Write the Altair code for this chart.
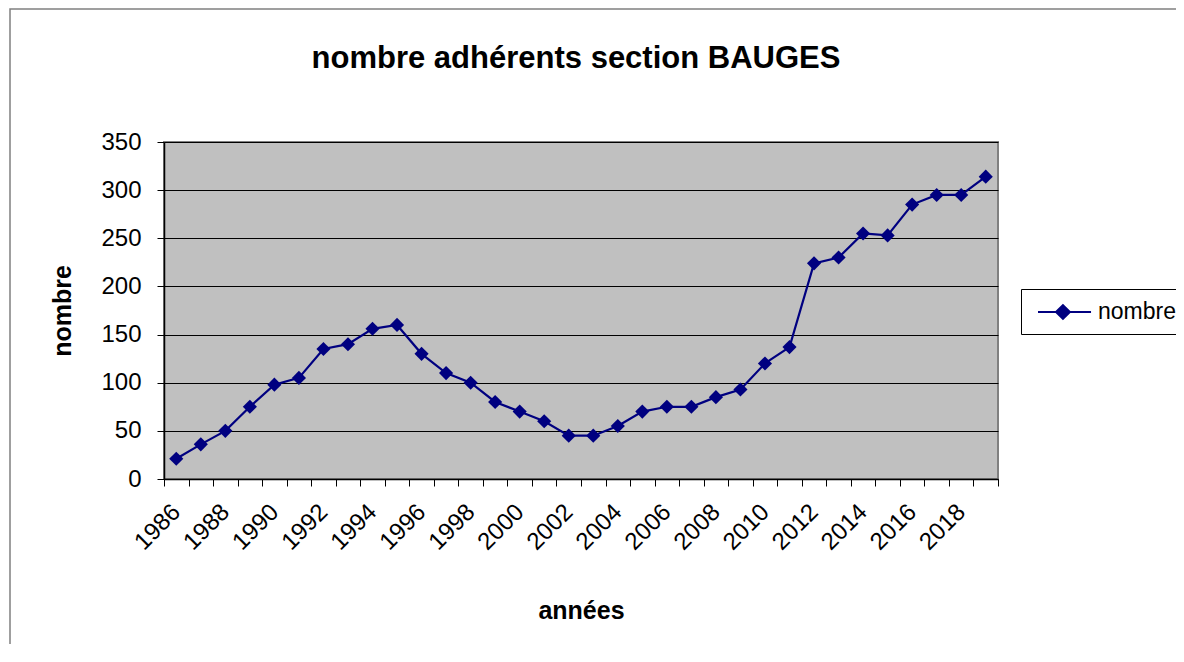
import altair as alt
import pandas as pd

years = [1986, 1987, 1988, 1989, 1990, 1991, 1992, 1993, 1994, 1995, 1996, 1997,
         1998, 1999, 2000, 2001, 2002, 2003, 2004, 2005, 2006, 2007, 2008, 2009,
         2010, 2011, 2012, 2013, 2014, 2015, 2016, 2017, 2018, 2019]
nombre = [21, 36, 50, 75, 98, 105, 135, 140, 156, 160, 130, 110,
          100, 80, 70, 60, 45, 45, 55, 70, 75, 75, 85, 93,
          120, 137, 224, 230, 255, 253, 285, 295, 295, 314]
series_name = "nombre"
y_ticks = [0, 50, 100, 150, 200, 250, 300, 350]

df = pd.DataFrame({"annee": years, "nombre": nombre, "serie": [series_name] * len(years)})

FONT = "Liberation Sans"
NAVY = "#000080"

x_enc = alt.X(
    "annee:O",
    scale=alt.Scale(paddingInner=0, paddingOuter=0),
    axis=alt.Axis(
        title="années",
        labelExpr="datum.value % 2 == 0 ? datum.label : ''",
        labelAngle=-45,
        labelAlign="right",
        labelBaseline="middle",
        labelPadding=22,
        labelFont=FONT,
        labelFontSize=24,
        labelColor="black",
        tickBand="extent",
        tickSize=7,
        tickColor="black",
        domainColor="black",
        domainWidth=1.5,
        titleFont=FONT,
        titleFontSize=25,
        titleFontWeight="bold",
        titleColor="black",
        titleBaseline="middle",
        titleY=131,
    ),
)
y_enc = alt.Y(
    "nombre:Q",
    scale=alt.Scale(domain=[0, 350], nice=False),
    axis=alt.Axis(
        title="nombre",
        values=y_ticks,
        grid=True,
        gridColor="black",
        gridWidth=1,
        tickSize=7,
        tickColor="black",
        domainColor="black",
        domainWidth=1.5,
        labelFont=FONT,
        labelFontSize=24,
        labelColor="black",
        labelPadding=16,
        titleFont=FONT,
        titleFontSize=25,
        titleFontWeight="bold",
        titleColor="black",
        titleBaseline="middle",
        titleX=-102,
    ),
)

base = alt.Chart(df)

line = base.mark_line(color=NAVY, strokeWidth=2.2).encode(x=x_enc, y=y_enc)

points = base.mark_point(shape="diamond", size=200, filled=True, opacity=1).encode(
    x=x_enc,
    y=y_enc,
    color=alt.Color(
        "serie:N",
        scale=alt.Scale(range=[NAVY]),
        legend=alt.Legend(
            title=None,
            orient="none",
            legendX=857,
            legendY=147,
            strokeColor="black",
            fillColor="white",
            padding=10,
            symbolType="M-0.5,0L3.92,0M1,0L1.58,-0.58L2.16,0L1.58,0.58Z",
            symbolSize=576,
            symbolStrokeWidth=2,
            symbolStrokeColor=NAVY,
            symbolFillColor=NAVY,
            labelFont=FONT,
            labelFontSize=23,
            labelColor="black",
            labelOffset=41,
        ),
    ),
)

frame = alt.Chart(pd.DataFrame({"k": [0]})).mark_rect(
    fill="transparent", stroke="#808080", strokeWidth=1.5
).encode(
    x=alt.value(-154), x2=alt.value(1040), y=alt.value(-133), y2=alt.value(540)
)

chart = alt.layer(frame, line, points).properties(
    width=834,
    height=337,
    title=alt.TitleParams(
        "nombre adhérents section BAUGES",
        font=FONT,
        fontSize=31,
        fontWeight="bold",
        color="black",
        anchor="middle",
        frame="group",
        baseline="alphabetic",
        offset=-91,
        dx=-5,
    ),
    autosize=alt.AutoSizeParams(type="none"),
    padding={"left": 156, "top": 134, "right": 178, "bottom": 165},
).configure(
    background="white"
).configure_view(
    fill="#C0C0C0", stroke="#808080", strokeWidth=2
)

chart.save("out.html", embed_options={"renderer": "svg", "actions": False})
